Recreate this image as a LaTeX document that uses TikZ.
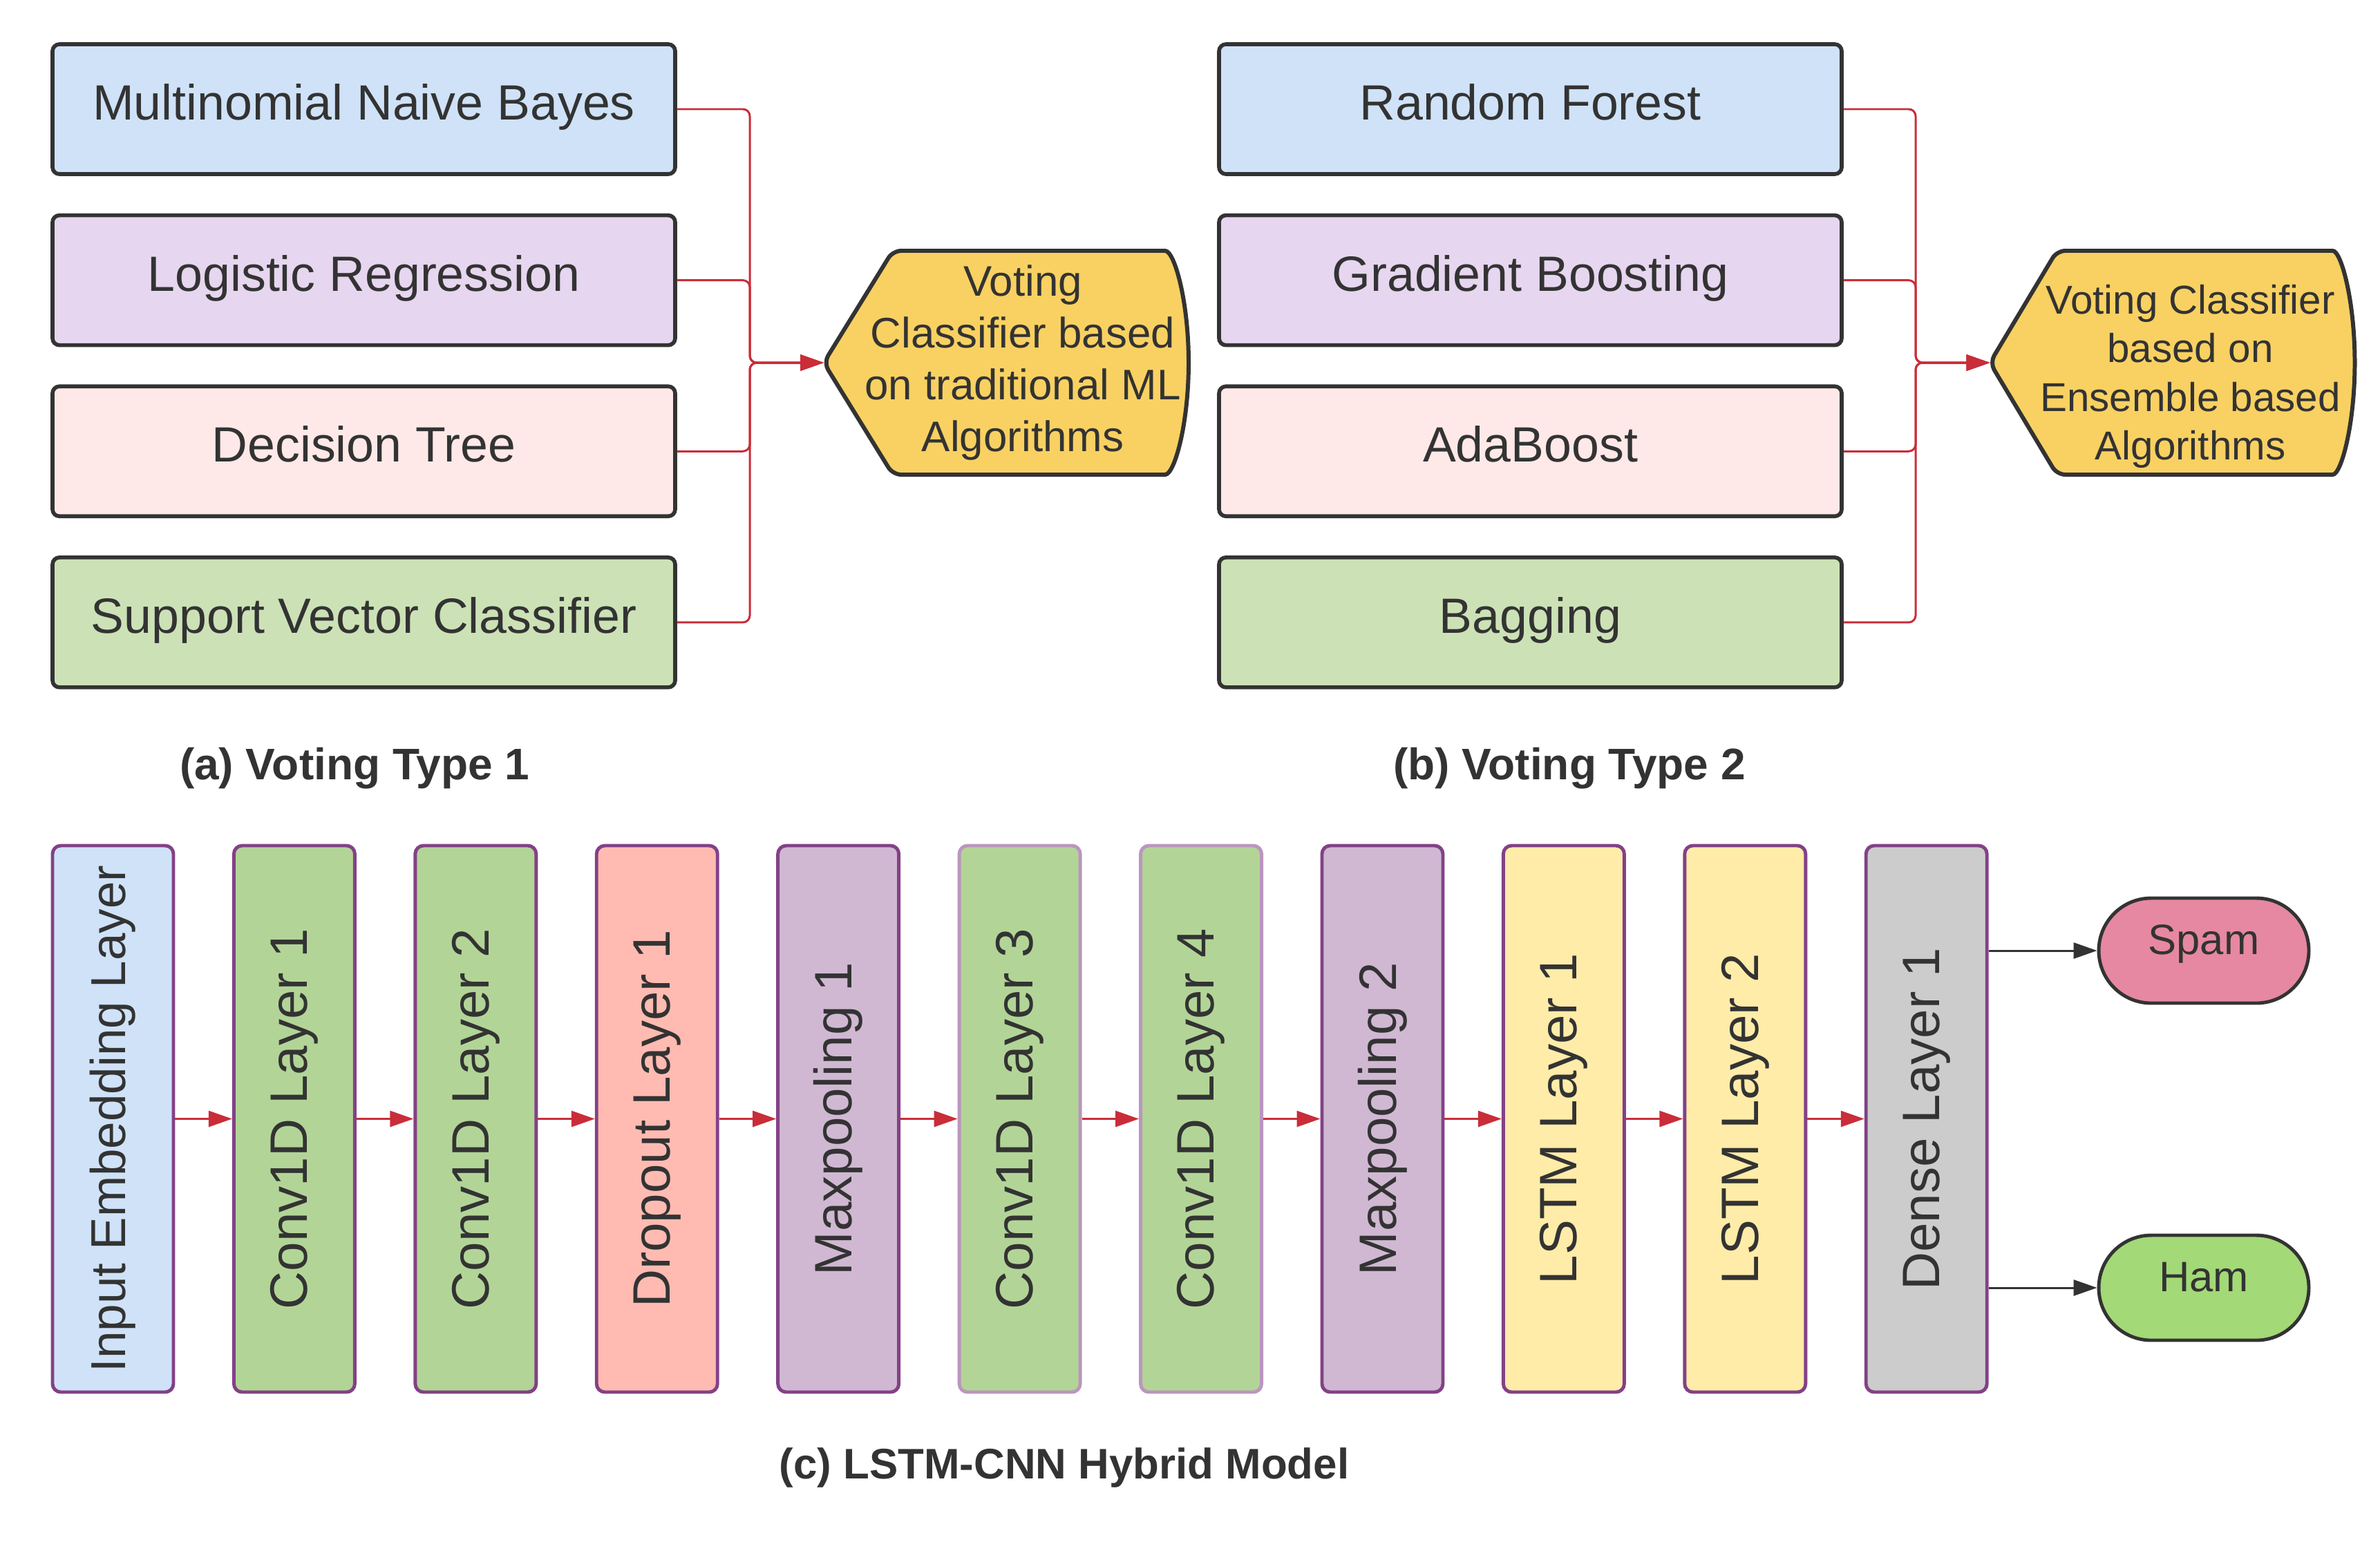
\documentclass[tikz,border=0pt]{standalone}
\usepackage{fontspec}
\setmainfont{Liberation Sans}
\usepackage{xcolor}
\usepackage{tikz}
\usetikzlibrary{arrows.meta,positioning,backgrounds}

\definecolor{inktext}{HTML}{333333}
\definecolor{linkred}{HTML}{C92D39}
\definecolor{boxpurple}{HTML}{834187}
\definecolor{softblue}{HTML}{CFE2F8}
\definecolor{softlilac}{HTML}{E6D6EF}
\definecolor{softpink}{HTML}{FFE9E8}
\definecolor{softgreen}{HTML}{CCE2B6}
\definecolor{voteyellow}{HTML}{F9D162}
\definecolor{convgreen}{HTML}{B2D597}
\definecolor{droppink}{HTML}{FFBBB1}
\definecolor{poolmauve}{HTML}{D0B8D3}
\definecolor{lstmyellow}{HTML}{FFECA9}
\definecolor{densegray}{HTML}{CCCCCC}
\definecolor{spampink}{HTML}{E688A1}
\definecolor{hamgreen}{HTML}{A3D977}

\begin{document}
\begin{tikzpicture}[
		font=\fontsize{20.4}{24}\selectfont,
		>={Triangle[length=3.4mm,width=2.3mm]},
		algbox/.style={draw=inktext, line width=1.6pt, rounded corners=1mm, minimum width=9.01cm, minimum height=1.88cm, text=inktext, text height=5.5mm, text depth=2.4mm},
		voteshape/.style={minimum width=5.28cm, minimum height=3.24cm, inner sep=0pt, outer sep=0pt},
		votetext/.style={align=center, text=inktext, font=\fontsize{17.6}{21.3}\selectfont},
		voteedge/.style={draw=inktext, fill=voteyellow, line width=1.7pt, rounded corners=1.2mm},
		layerbox/.style={draw=boxpurple, line width=1.4pt, rounded corners=1.2mm, minimum width=1.75cm, minimum height=7.91cm, inner sep=0pt, text=inktext, font=\fontsize{21.7}{26}\selectfont},
		endbox/.style={draw=inktext, line width=1.4pt, rounded corners=7.6mm, minimum width=3.04cm, minimum height=1.52cm, text=inktext, text height=0.72em, text depth=0.4em, font=\fontsize{17.5}{21}\selectfont},
		figcap/.style={anchor=base, text=inktext, font=\bfseries\fontsize{17.6}{21}\selectfont},
		flow/.style={->, draw=linkred, line width=0.85pt},
		fanin/.style={flow, rounded corners=1mm},
		outflow/.style={->, draw=inktext, line width=0.85pt}
		]
		\useasboundingbox (0,0) rectangle (34.44,-22.31);
		
		% (a) voting type 1
		\node[algbox, fill=softblue] (mnb) at (5.265,-1.58) {Multinomial Naive Bayes};
		\node[algbox, fill=softlilac, below=5.4mm of mnb] (lr) {Logistic Regression};
		\node[algbox, fill=softpink, below=5.4mm of lr] (dt) {Decision Tree};
		\node[algbox, fill=softgreen, below=5.4mm of dt] (svc) {Support Vector Classifier};
		\node[voteshape, label={[votetext, xshift=2.4mm]center:Voting\\Classifier based\\on traditional ML\\Algorithms}] (vote1) at (14.56,-5.25) {};
		\coordinate (hub1) at (10.85,-5.25);
		
		% (b) voting type 2
		\node[algbox, fill=softblue] (rf) at (22.145,-1.58) {Random Forest};
		\node[algbox, fill=softlilac, below=5.4mm of rf] (gb) {Gradient Boosting};
		\node[algbox, fill=softpink, below=5.4mm of gb] (ada) {AdaBoost};
		\node[algbox, fill=softgreen, below=5.4mm of ada] (bag) {Bagging};
		\node[voteshape, label={[votetext, xshift=2.6mm, yshift=-2mm, font=\fontsize{16.6}{20}\selectfont]center:Voting Classifier\\based on\\Ensemble based\\Algorithms}] (vote2) at (31.435,-5.25) {};
		\coordinate (hub2) at (27.72,-5.25);
		
		\begin{scope}[on background layer]
			\draw[voteedge] (vote1.west) -- ([xshift=10mm]vote1.north west) -- ([xshift=-4.6mm]vote1.north east) arc[start angle=90, end angle=-90, x radius=4.6mm, y radius=16.2mm] -- ([xshift=10mm]vote1.south west) -- cycle;
			\draw[voteedge] (vote2.west) -- ([xshift=9.7mm]vote2.north west) -- ([xshift=-4.4mm]vote2.north east) arc[start angle=90, end angle=-90, x radius=4.4mm, y radius=16.2mm] -- ([xshift=9.7mm]vote2.south west) -- cycle;
		\end{scope}
		
		\draw[fanin] (mnb.east) -| (hub1) -- (vote1.west);
		\draw[fanin] (lr.east) -| (hub1) -- (vote1.west);
		\draw[fanin] (dt.east) -| (hub1) -- (vote1.west);
		\draw[fanin] (svc.east) -| (hub1) -- (vote1.west);
		
		\draw[fanin] (rf.east) -| (hub2) -- (vote2.west);
		\draw[fanin] (gb.east) -| (hub2) -- (vote2.west);
		\draw[fanin] (ada.east) -| (hub2) -- (vote2.west);
		\draw[fanin] (bag.east) -| (hub2) -- (vote2.west);
		
		\node[figcap, font=\bfseries\fontsize{18.2}{22}\selectfont] (capa) at (5.13,-11.28) {(a) Voting Type 1};
		\node[figcap, font=\bfseries\fontsize{18.2}{22}\selectfont] (capb) at (22.71,-11.28) {(b) Voting Type 2};
		
		% (c) lstm-cnn hybrid model
		\node[layerbox, fill=softblue] (emb) at (1.635,-16.195) {\rotatebox{90}{\fontsize{20.2}{24}\selectfont Input Embedding Layer}};
		\node[layerbox, fill=convgreen, right=8.25mm of emb] (cv1) {\rotatebox{90}{Conv1D Layer 1}};
		\node[layerbox, fill=convgreen, right=8.25mm of cv1] (cv2) {\rotatebox{90}{Conv1D Layer 2}};
		\node[layerbox, fill=droppink, right=8.25mm of cv2] (drop) {\rotatebox{90}{Dropout Layer 1}};
		\node[layerbox, fill=poolmauve, right=8.25mm of drop] (pool1) {\rotatebox{90}{Maxpooling 1}};
		\node[layerbox, fill=convgreen, draw=boxpurple!55, right=8.25mm of pool1] (cv3) {\rotatebox{90}{Conv1D Layer 3}};
		\node[layerbox, fill=convgreen, draw=boxpurple!55, right=8.25mm of cv3] (cv4) {\rotatebox{90}{Conv1D Layer 4}};
		\node[layerbox, fill=poolmauve, right=8.25mm of cv4] (pool2) {\rotatebox{90}{Maxpooling 2}};
		\node[layerbox, fill=lstmyellow, right=8.25mm of pool2] (lstm1) {\rotatebox{90}{LSTM Layer 1}};
		\node[layerbox, fill=lstmyellow, right=8.25mm of lstm1] (lstm2) {\rotatebox{90}{LSTM Layer 2}};
		\node[layerbox, fill=densegray, right=8.25mm of lstm2] (dense) {\rotatebox{90}{Dense Layer 1}};
		
		\node[endbox, fill=spampink] (spam) at (31.89,-13.76) {Spam};
		\node[endbox, fill=hamgreen] (ham) at (31.89,-18.64) {Ham};
		
		\draw[flow] (emb) -- (cv1);
		\draw[flow] (cv1) -- (cv2);
		\draw[flow] (cv2) -- (drop);
		\draw[flow] (drop) -- (pool1);
		\draw[flow] (pool1) -- (cv3);
		\draw[flow] (cv3) -- (cv4);
		\draw[flow] (cv4) -- (pool2);
		\draw[flow] (pool2) -- (lstm1);
		\draw[flow] (lstm1) -- (lstm2);
		\draw[flow] (lstm2) -- (dense);
		
		\draw[outflow] (dense.east |- spam.west) -- (spam.west);
		\draw[outflow] (dense.east |- ham.west) -- (ham.west);
		
		\node[figcap] (capc) at (15.40,-21.40) {(c) LSTM-CNN Hybrid Model};
	\end{tikzpicture}
\end{document}
